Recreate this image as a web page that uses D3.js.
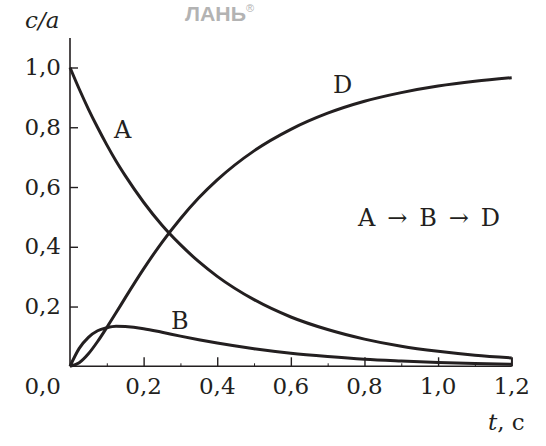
<!DOCTYPE html>
<html><head><meta charset="utf-8">
<script src="https://cdn.jsdelivr.net/npm/d3@7"></script>
<style>body{margin:0;background:#fff}svg{display:block}</style>
</head><body>
<script>
const tValues = [0, 0.025, 0.05, 0.075, 0.1, 0.125, 0.15, 0.2, 0.25, 0.3, 0.35, 0.4, 0.5, 0.6, 0.7, 0.8, 0.9, 1.0, 1.1, 1.2];
const seriesA = [1, 0.928, 0.861, 0.799, 0.741, 0.687, 0.638, 0.549, 0.472, 0.407, 0.350, 0.301, 0.223, 0.165, 0.123, 0.091, 0.067, 0.050, 0.037, 0.028];
const seriesB = [0, 0.060, 0.097, 0.119, 0.129, 0.134, 0.133, 0.126, 0.114, 0.101, 0.089, 0.078, 0.059, 0.044, 0.033, 0.024, 0.018, 0.013, 0.009, 0.007];
const seriesD = [0, 0.012, 0.042, 0.083, 0.130, 0.179, 0.229, 0.326, 0.415, 0.494, 0.564, 0.624, 0.721, 0.793, 0.847, 0.887, 0.916, 0.938, 0.954, 0.966];
const xTicks = [0.2, 0.4, 0.6, 0.8, 1.0, 1.2];
const xMinorTicks = [0.1, 0.3, 0.5, 0.7, 0.9, 1.1];
const yTicks = [0.2, 0.4, 0.6, 0.8, 1.0];
const fmt = v => d3.format(".1f")(v).replace(".", ",");

const W = 546, H = 446;
const ink = "#231f20";
const serif = "'DejaVu Serif', serif";
const svg = d3.select("body").append("svg").attr("width", W).attr("height", H);

const x = d3.scaleLinear().domain([0, 1.2]).range([70, 511.7]);
const y = d3.scaleLinear().domain([0, 1]).range([366.3, 67.5]);

// watermark
const wm = svg.append("text").attr("x", 185).attr("y", 21).attr("font-family", "'Liberation Sans', sans-serif")
  .attr("font-weight", "bold").attr("font-size", 21).attr("fill", "#b3b3b3");
wm.append("tspan").attr("textLength", 61).attr("lengthAdjust", "spacingAndGlyphs").text("ЛАНЬ");
wm.append("tspan").attr("font-size", 11).attr("font-weight", "normal").attr("dy", -9).text("®");

// axes lines
svg.append("line").attr("x1", x(0)).attr("x2", x(0)).attr("y1", 38).attr("y2", y(0))
  .attr("stroke", ink).attr("stroke-width", 1.6);
svg.append("line").attr("x1", x(0)).attr("x2", x(1.2)).attr("y1", y(0)).attr("y2", y(0))
  .attr("stroke", ink).attr("stroke-width", 1.6);

// x ticks
const xAxis = d3.axisTop(x).tickValues(xTicks).tickSize(9).tickFormat("");
const gx = svg.append("g").attr("transform", `translate(0,${y(0)})`).call(xAxis);
gx.select(".domain").remove();
gx.selectAll("line").attr("stroke", ink).attr("stroke-width", 1.4);
const xAxisMinor = d3.axisTop(x).tickValues(xMinorTicks).tickSize(3).tickFormat("");
const gxm = svg.append("g").attr("transform", `translate(0,${y(0)})`).call(xAxisMinor);
gxm.select(".domain").remove();
gxm.selectAll("line").attr("stroke", ink).attr("stroke-width", 1);

svg.append("g").selectAll("text").data([0].concat(xTicks)).join("text")
  .attr("x", d => d === 0 ? 61 : x(d)).attr("y", 394)
  .attr("text-anchor", d => d === 0 ? "end" : "middle")
  .attr("font-family", serif).attr("font-size", 23).attr("fill", ink)
  .text(fmt);

// y ticks
const yAxis = d3.axisRight(y).tickValues(yTicks).tickSize(8).tickFormat("");
const gy = svg.append("g").attr("transform", `translate(${x(0)},0)`).call(yAxis);
gy.select(".domain").remove();
gy.selectAll("line").attr("stroke", ink).attr("stroke-width", 1.4);
svg.append("g").selectAll("text").data(yTicks).join("text")
  .attr("x", 61).attr("y", d => y(d) + 7.5).attr("text-anchor", "end")
  .attr("font-family", serif).attr("font-size", 23).attr("fill", ink)
  .text(fmt);

// axis titles
svg.append("text").attr("x", 25).attr("y", 28).attr("font-family", serif)
  .attr("font-style", "italic").attr("font-size", 23).attr("fill", ink).text("c/a");
const tt = svg.append("text").attr("x", 488).attr("y", 430).attr("font-family", serif)
  .attr("font-size", 23).attr("fill", ink);
tt.append("tspan").attr("font-style", "italic").text("t");
tt.append("tspan").text(", с");

// curves
const line = d3.line().x(d => x(d[0])).y(d => y(d[1])).curve(d3.curveMonotoneX);
[seriesA, seriesB, seriesD].forEach(s => {
  svg.append("path").datum(tValues.map((t, i) => [t, s[i]]))
    .attr("d", line).attr("fill", "none").attr("stroke", ink).attr("stroke-width", 3)
    .attr("stroke-linejoin", "round");
});
// closing edge at right end
svg.append("line").attr("x1", x(1.2)).attr("x2", x(1.2))
  .attr("y1", y(0)).attr("y2", y(seriesA[seriesA.length - 1]))
  .attr("stroke", ink).attr("stroke-width", 1.6);

// curve labels
const lbl = (tx, ty, s) => svg.append("text").attr("x", tx).attr("y", ty)
  .attr("font-family", serif).attr("font-size", 24).attr("fill", ink).text(s);
lbl(114, 138, "A");
lbl(171, 329, "B");
lbl(333, 93, "D");
svg.append("text").attr("x", 358).attr("y", 226)
  .attr("font-family", serif).attr("font-size", 24).attr("fill", ink)
  .attr("textLength", 142).attr("lengthAdjust", "spacing").text("A → B → D");
</script>
</body></html>
